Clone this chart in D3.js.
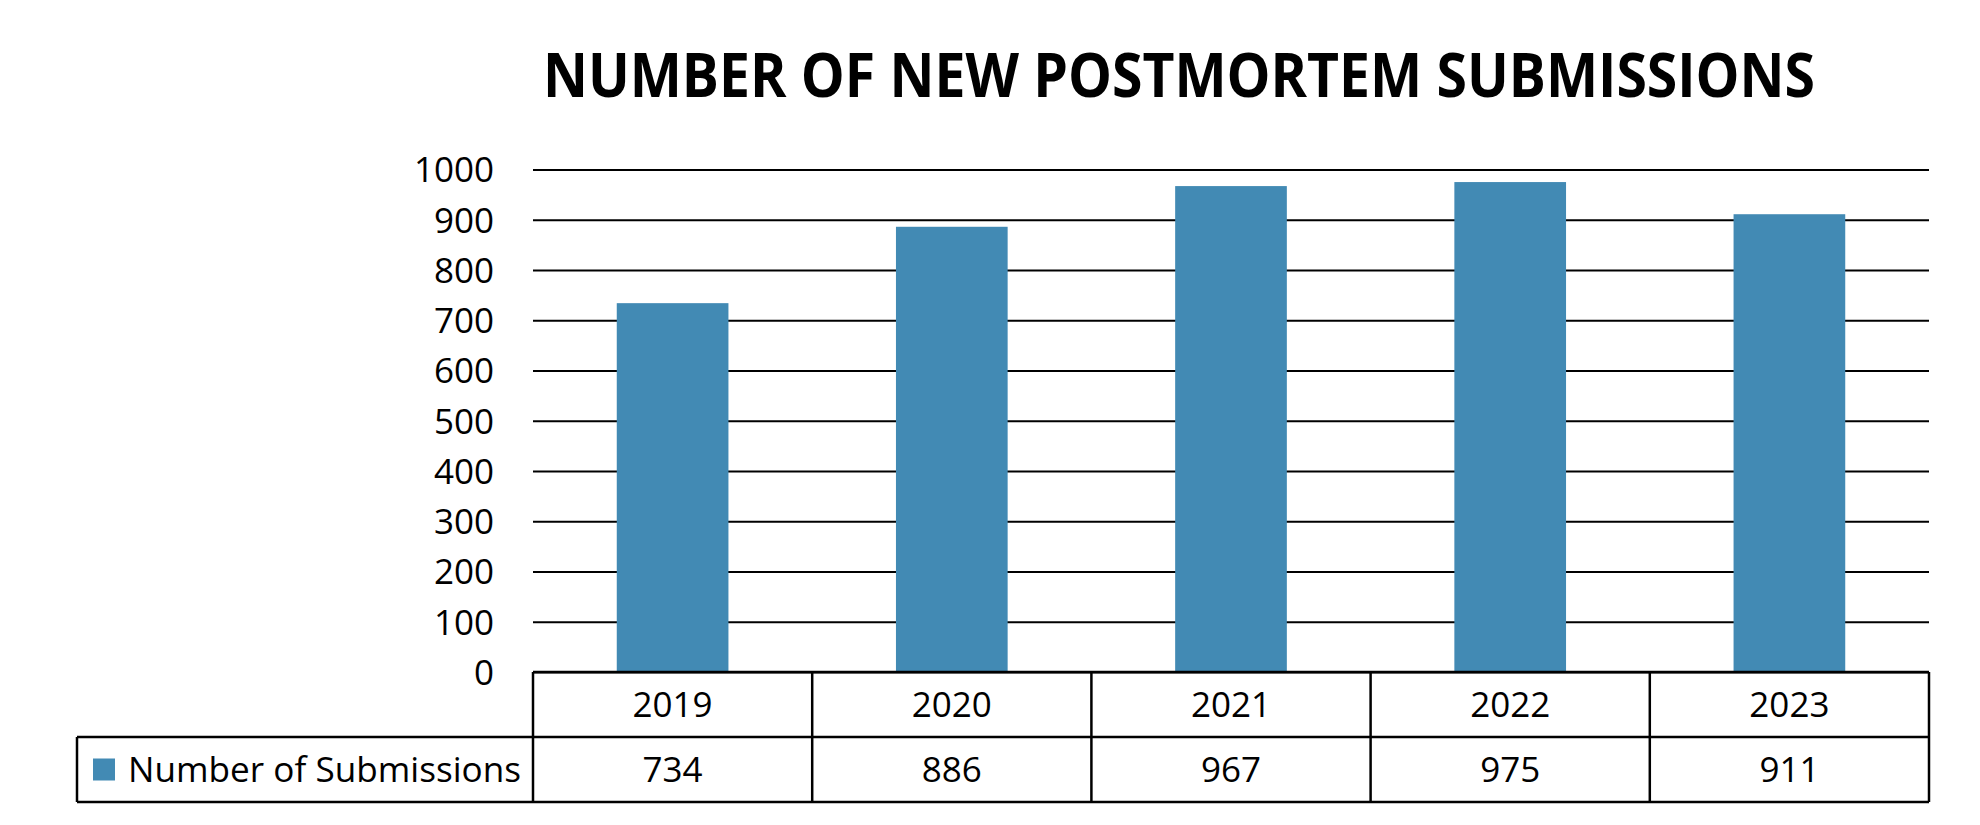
<!DOCTYPE html>
<html lang="en">
<head>
    <meta charset="UTF-8">
    <title>Number of new postmortem submissions</title>
    <script src="https://d3js.org/d3.v7.min.js"></script>
    <style>
        body { margin: 0; background: white; }
        text { font-family: 'Open Sans', sans-serif; fill: black; }
    </style>
</head>
<body>
<script>
    const width = 1980;
    const height = 825;

    const title = "NUMBER OF NEW POSTMORTEM SUBMISSIONS";
    const seriesName = "Number of Submissions";
    const years = ["2019", "2020", "2021", "2022", "2023"];
    const submissions = [734, 886, 967, 975, 911];
    const yTicks = [0, 100, 200, 300, 400, 500, 600, 700, 800, 900, 1000];

    const barColor = "#428ab4";

    // plot area (table sits right under it)
    const plotLeft = 533, plotRight = 1929, plotTop = 169.5, plotBottom = 672;
    const rowH = 65;
    const tableLeft = 77;

    const svg = d3.select("body").append("svg").attr("width", width).attr("height", height);

    const x = d3.scaleBand().domain(years).range([plotLeft, plotRight]).paddingInner(0.6).paddingOuter(0.3);
    const y = d3.scaleLinear().domain([0, 1000]).range([plotBottom, plotTop]);

    // title
    svg.append("text")
        .attr("x", 1179).attr("y", 97)
        .attr("text-anchor", "middle")
        .attr("textLength", 1272).attr("lengthAdjust", "spacingAndGlyphs")
        .style("font-size", "60px").style("font-weight", "bold")
        .text(title);

    // gridlines + tick labels
    const yAxis = svg.append("g")
        .attr("transform", `translate(${plotLeft},0)`)
        .call(d3.axisLeft(y).tickValues(yTicks).tickSize(-(plotRight - plotLeft)).tickFormat(d3.format("d")));
    yAxis.select(".domain").remove();
    yAxis.selectAll(".tick line").attr("stroke", "black").attr("stroke-width", 2);
    yAxis.selectAll(".tick text")
        .attr("x", -39).attr("dy", "0.35em")
        .style("font-size", "35px").style("font-family", "'Open Sans', sans-serif")
        .attr("fill", "black");

    // bars
    svg.append("g").selectAll("rect")
        .data(submissions).join("rect")
        .attr("x", (d, i) => x(years[i]))
        .attr("width", x.bandwidth())
        .attr("y", d => y(d))
        .attr("height", d => y(0) - y(d))
        .attr("fill", barColor);

    // data table
    const table = svg.append("g").attr("stroke", "black").attr("stroke-width", 2.5).attr("fill", "none");
    table.append("line").attr("x1", plotLeft).attr("x2", plotRight).attr("y1", plotBottom).attr("y2", plotBottom);
    table.append("line").attr("x1", tableLeft).attr("x2", plotRight).attr("y1", plotBottom + rowH).attr("y2", plotBottom + rowH);
    table.append("line").attr("x1", tableLeft).attr("x2", plotRight).attr("y1", plotBottom + 2 * rowH).attr("y2", plotBottom + 2 * rowH);
    table.append("line").attr("x1", tableLeft).attr("x2", tableLeft).attr("y1", plotBottom + rowH).attr("y2", plotBottom + 2 * rowH);
    const step = x.step();
    const edges = d3.range(years.length + 1).map(i => plotLeft + i * step);
    table.selectAll("line.v").data(edges).join("line").attr("class", "v")
        .attr("x1", d => d).attr("x2", d => d)
        .attr("y1", plotBottom).attr("y2", plotBottom + 2 * rowH);

    svg.append("g").selectAll("text")
        .data(years).join("text")
        .attr("x", d => x(d) + x.bandwidth() / 2)
        .attr("y", plotBottom + rowH / 2)
        .attr("dy", "0.35em")
        .attr("text-anchor", "middle")
        .style("font-size", "35px")
        .text(d => d);

    svg.append("g").selectAll("text")
        .data(submissions).join("text")
        .attr("x", (d, i) => x(years[i]) + x.bandwidth() / 2)
        .attr("y", plotBottom + rowH * 1.5)
        .attr("dy", "0.35em")
        .attr("text-anchor", "middle")
        .style("font-size", "35px")
        .text(d => d);

    // legend key in the table row header
    svg.append("rect")
        .attr("x", 93).attr("y", plotBottom + rowH * 1.5 - 11)
        .attr("width", 22).attr("height", 22)
        .attr("fill", barColor);
    svg.append("text")
        .attr("x", 128).attr("y", plotBottom + rowH * 1.5)
        .attr("dy", "0.35em")
        .attr("textLength", 393).attr("lengthAdjust", "spacingAndGlyphs")
        .style("font-size", "35px")
        .text(seriesName);
</script>
</body>
</html>
